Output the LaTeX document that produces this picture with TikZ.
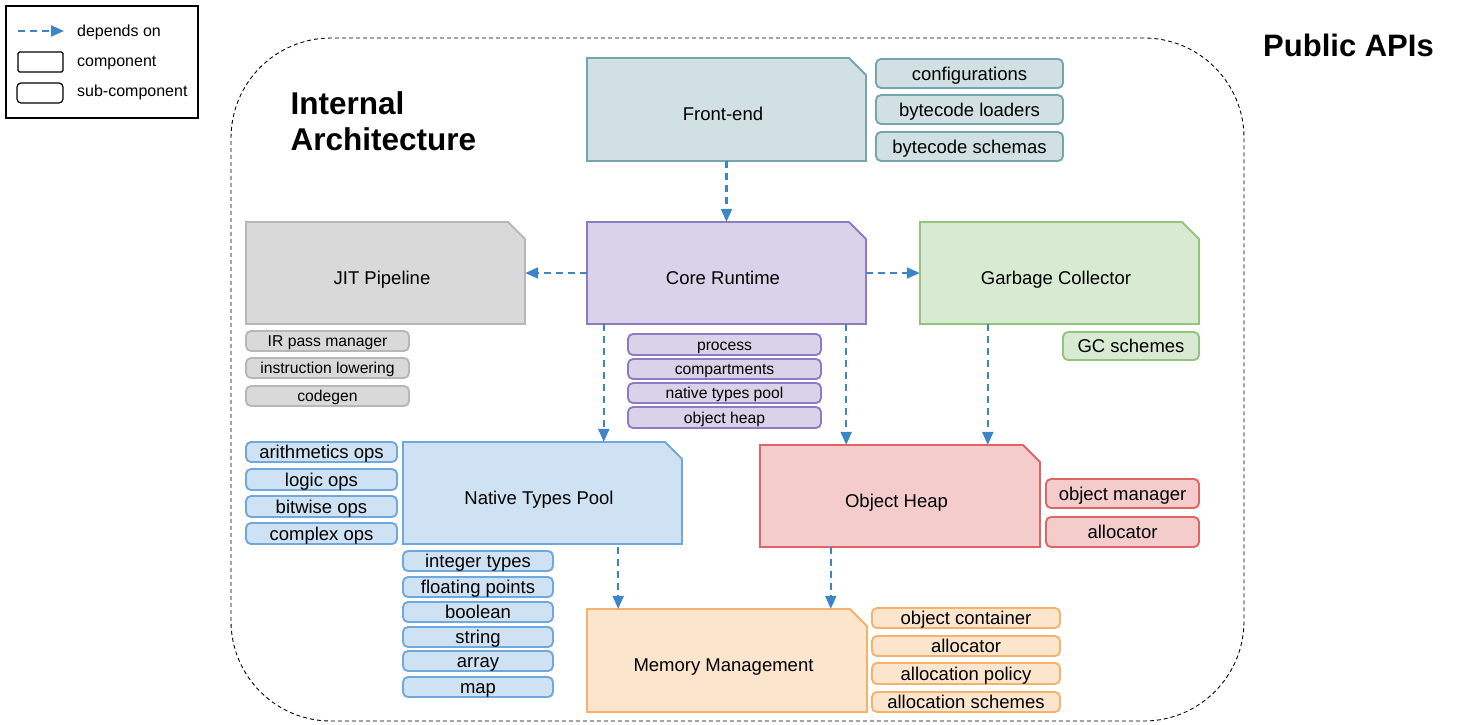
\documentclass[tikz,border=0pt]{standalone}
\usepackage{fontspec}
\setmainfont{Liberation Sans}
\usetikzlibrary{arrows.meta}
\definecolor{tealF}{HTML}{D0E0E3}\definecolor{tealD}{HTML}{76A5AF}
\definecolor{purpF}{HTML}{D9D2E9}\definecolor{purpD}{HTML}{8E7CC3}
\definecolor{grayF}{HTML}{D9D9D9}\definecolor{grayD}{HTML}{B7B7B7}
\definecolor{grenF}{HTML}{D9EAD3}\definecolor{grenD}{HTML}{93C47D}
\definecolor{blueF}{HTML}{CFE2F3}\definecolor{blueD}{HTML}{6FA8DC}
\definecolor{redF}{HTML}{F4CCCC}\definecolor{redD}{HTML}{E06666}
\definecolor{oranF}{HTML}{FCE5CD}\definecolor{oranD}{HTML}{F6B26B}
\definecolor{depC}{HTML}{3D85C6}
\newcommand\fs[1]{\fontsize{#1}{#1}\selectfont}
\tikzset{
  comp/.style={line width=1.9pt, line join=miter},
  compnode/.style={draw=none, fill=none, rectangle, inner sep=0pt},
  clabel/.style={font=\fs{18.5}, inner sep=0pt, text height=13.3pt, text depth=0pt},
  sub/.style={draw=#1D, fill=#1F, line width=1.9pt, rounded corners=5pt, inner sep=0pt, text depth=0pt},
  bigt/.style={font=\fs{18.5}, text height=13.3pt},
  smallt/.style={font=\fs{15.7}, text height=11.2pt},
  dep/.style={draw=depC, line width=2.2pt, dash pattern=on 7pt off 5pt, -{Triangle[length=13pt,width=11pt,fill=depC]}},
  ttl/.style={font=\fs{31.5}\bfseries, inner sep=0pt, anchor=base west},
  leg/.style={font=\fs{16}, inner sep=0pt, anchor=base west},
}
\newcommand\cbx[7]{%
  \filldraw[comp, fill=#2F, draw=#2D] (#3,#4) -- ({#5-17},#4) -- (#5,{#4+17}) -- (#5,#6) -- (#3,#6) -- cycle;
  \pgfmathsetmacro\mywd{#5-#3}\pgfmathsetmacro\myht{#6-#4}%
  \node[compnode, minimum width=\mywd pt, minimum height=\myht pt] (#1) at ({(#3+#5)/2},{(#4+#6)/2}) {};
  \node[clabel] (#1-l) at ([shift={(-3.5,4.5)}]#1.center) {#7};
}
\newcommand\sbx[8]{%
  \pgfmathsetmacro\mywd{#6-#4}\pgfmathsetmacro\myht{#7-#5}%
  \node[sub=#2, #3, minimum width=\mywd pt, minimum height=\myht pt] (#1) at ({(#4+#6)/2},{(#5+#7)/2}) {#8};
}
\begin{document}
\begin{tikzpicture}[x=1pt,y=-1pt]
\useasboundingbox (0,0) rectangle (1475,724);
% legend
\node[draw, line width=2pt, minimum width=192pt, minimum height=112pt, inner sep=0pt] (legend) at (102,62) {};
\coordinate (la1) at (18,31);
\coordinate (la2) at (64,31);
\draw[dep] (la1) -- (la2);
\node[draw, line width=1.2pt, rounded corners=1.5pt, minimum width=45pt, minimum height=20pt, inner sep=0pt] (lcomp) at (40.5,62) {};
\node[draw, line width=1.2pt, rounded corners=4pt, minimum width=46pt, minimum height=20pt, inner sep=0pt] (lsub) at (40,93) {};
\node[leg] (lt1) at (77,36.5) {depends on};
\node[leg] (lt2) at (77,66) {component};
\node[leg] (lt3) at (77,96.5) {sub-component};
% outer frame
\node[draw, line width=0.9pt, dash pattern=on 4pt off 3pt, rounded corners=100pt, minimum width=1013pt, minimum height=683pt, inner sep=0pt] (internal) at (737.5,379.5) {};
\node[ttl] (ia1) at (290.5,114.3) {Internal};
\node[ttl] (ia2) at (290.5,150.7) {Architecture};
\node[ttl, font=\fs{31}\bfseries] (pub) at (1263,56.7) {Public APIs};
% components
\cbx{fe}{teal}{587}{58}{866}{161}{Front-end}
\cbx{cr}{purp}{587}{222}{866}{324}{Core Runtime}
\cbx{jit}{gray}{246}{222}{525}{324}{JIT Pipeline}
\cbx{gc}{gren}{920}{222}{1199}{324}{Garbage Collector}
\cbx{nt}{blue}{403}{442}{682}{544}{Native Types Pool}
\cbx{oh}{red}{760}{445}{1040}{547}{Object Heap}
\cbx{mm}{oran}{587}{609}{867}{712}{Memory Management}
% sub-components
\sbx{fe1}{teal}{bigt}{876}{59}{1063}{88}{configurations}
\sbx{fe2}{teal}{bigt}{876}{95}{1063}{124}{bytecode loaders}
\sbx{fe3}{teal}{bigt}{876}{132}{1063}{161}{bytecode schemas}
\sbx{jit1}{gray}{smallt}{246}{331}{409}{351}{IR pass manager}
\sbx{jit2}{gray}{smallt}{246}{358}{409}{378}{instruction lowering}
\sbx{jit3}{gray}{smallt}{246}{386}{409}{406}{codegen}
\sbx{cr1}{purp}{smallt}{628}{334}{821}{355}{process}
\sbx{cr2}{purp}{smallt}{628}{359}{821}{379}{compartments}
\sbx{cr3}{purp}{smallt}{628}{383}{821}{403}{native types pool}
\sbx{cr4}{purp}{smallt}{628}{407}{821}{428}{object heap}
\sbx{gc1}{gren}{bigt}{1063}{332}{1199}{360}{GC schemes}
\sbx{op1}{blue}{bigt}{246}{442}{397}{462}{arithmetics ops}
\sbx{op2}{blue}{bigt}{246}{469}{397}{490}{logic ops}
\sbx{op3}{blue}{bigt}{246}{496}{397}{517}{bitwise ops}
\sbx{op4}{blue}{bigt}{246}{523}{397}{544}{complex ops}
\sbx{ty1}{blue}{bigt}{403}{551}{553}{571}{integer types}
\sbx{ty2}{blue}{bigt}{403}{577}{553}{597}{floating points}
\sbx{ty3}{blue}{bigt}{403}{602}{553}{622}{boolean}
\sbx{ty4}{blue}{bigt}{403}{627}{553}{647}{string}
\sbx{ty5}{blue}{bigt}{403}{651}{553}{671}{array}
\sbx{ty6}{blue}{bigt}{403}{677}{553}{697}{map}
\sbx{oh1}{red}{bigt}{1046}{479}{1199}{508}{object manager}
\sbx{oh2}{red}{bigt}{1046}{517}{1199}{547}{allocator}
\sbx{mm1}{oran}{bigt}{872}{608}{1060}{628}{object container}
\sbx{mm2}{oran}{bigt}{872}{636}{1060}{656}{allocator}
\sbx{mm3}{oran}{bigt}{872}{663}{1060}{684}{allocation policy}
\sbx{mm4}{oran}{bigt}{872}{692}{1060}{712}{allocation schemes}
% dependencies
\draw[dep] (fe) -- (cr);
\draw[dep] (cr) -- (jit);
\draw[dep] (cr) -- (gc);
\coordinate (a1) at ([xshift=17pt]cr.south west);
\draw[dep] (a1) -- (a1 |- nt.north);
\coordinate (a2) at ([xshift=-20pt]cr.south east);
\draw[dep] (a2) -- (a2 |- oh.north);
\coordinate (a3) at ([xshift=68pt]gc.south west);
\draw[dep] (a3) -- (a3 |- oh.north);
\coordinate (a4) at ([xshift=-64pt,yshift=-3pt]nt.south east);
\draw[dep] (a4) -- (a4 |- mm.north);
\coordinate (a5) at ([xshift=71pt]oh.south west);
\draw[dep] (a5) -- (a5 |- mm.north);
\end{tikzpicture}
\end{document}
